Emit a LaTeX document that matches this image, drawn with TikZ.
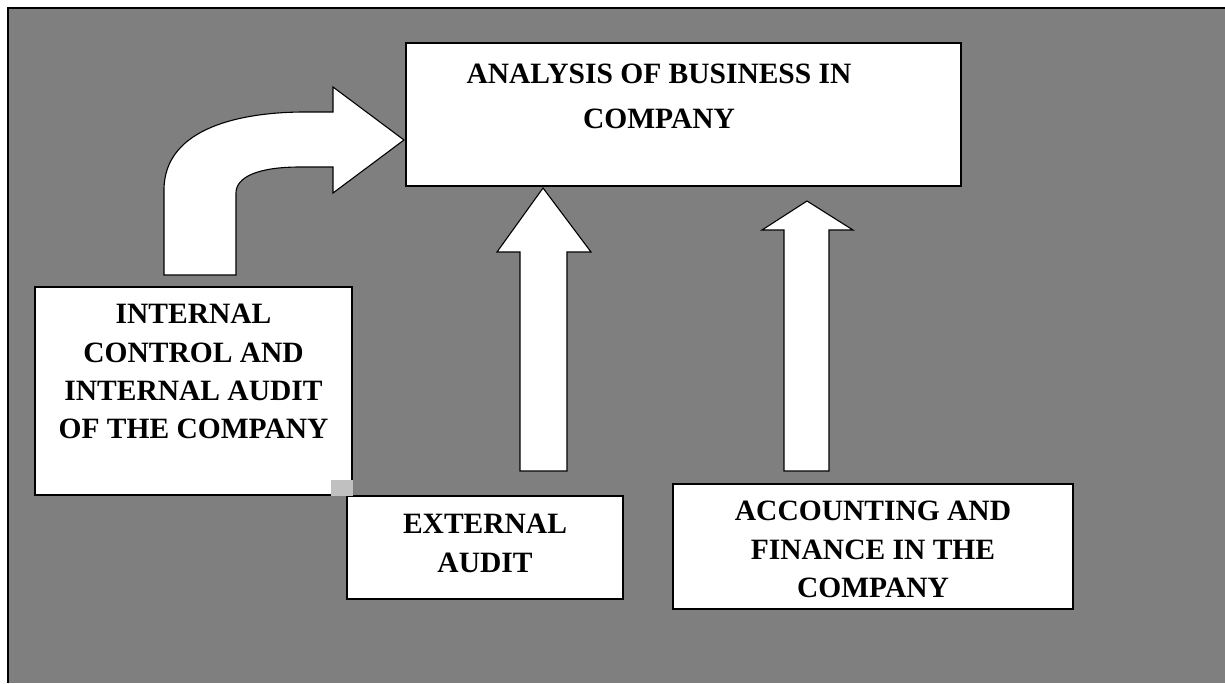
\documentclass[tikz,border=0pt]{standalone}
\usepackage{fontspec}
\setmainfont{Liberation Serif}
\usetikzlibrary{positioning}
\definecolor{bggray}{RGB}{127,127,127}
\definecolor{patchgray}{RGB}{192,192,192}

\begin{document}
\begin{tikzpicture}[x=1pt, y=-1pt,
  bizbox/.style={draw=black, fill=white, line width=1.6pt, inner sep=0pt},
  bizlabel/.style={align=center, inner sep=0pt, font=\bfseries\fontsize{29.5}{38.3}\selectfont},
  bizarrow/.style={draw=black, fill=white, line width=1.1pt, line join=miter}]
  \useasboundingbox (0,0) rectangle (1225,683);
  % background with the frame on top and left
  \fill[white] (0,0) rectangle (1225,683);
  \fill[bggray] (8,8) rectangle (1225,683);
  \draw[line width=2pt] (8,683) -- (8,8) -- (1225,8);

  % boxes
  \node[bizbox, minimum width=555pt, minimum height=143pt] (analysis) at (683.5,114.5) {};
  \node[bizbox, minimum width=317pt, minimum height=208pt] (internal) at (193.5,391) {};
  \node[bizbox, minimum width=276pt, minimum height=103pt] (external) at (485,547.5) {};
  \node[bizbox, minimum width=400pt, minimum height=125pt] (accounting) at (873,546.5) {};
  \fill[patchgray] (331,480) rectangle (353,496);

  % texts
  \node[bizlabel, font=\bfseries\fontsize{29.5}{45}\selectfont, below=22pt of analysis.north, xshift=-24.5pt] (analysistext)
    {ANALYSIS OF BUSINESS IN\\COMPANY};
  \node[bizlabel, below=18pt of internal.north] (internaltext)
    {INTERNAL\\CONTROL AND\\INTERNAL AUDIT\\OF THE COMPANY};
  \node[bizlabel, below=19pt of external.north] (externaltext)
    {EXTERNAL\\AUDIT};
  \node[bizlabel, below=18pt of accounting.north] (accountingtext)
    {ACCOUNTING AND\\FINANCE IN THE\\COMPANY};

  % bent arrow from internal control
  \draw[bizarrow] (164,275) -- (164,190)
    .. controls (164,126) and (245,112) .. (305,112) -- (333,112)
    -- (333,87) -- (404,140) -- (333,193) -- (333,167) -- (300,167)
    .. controls (258,167) and (236,177) .. (236,193) -- (236,275) -- cycle;
  % straight arrows
  \draw[bizarrow] (520,471) -- (520,252) -- (497,252) -- (543,188)
    -- (591,252) -- (567,252) -- (567,471) -- cycle;
  \draw[bizarrow] (784,471) -- (784,230) -- (762,230) -- (807,201)
    -- (853,230) -- (829,230) -- (829,471) -- cycle;
\end{tikzpicture}
\end{document}
